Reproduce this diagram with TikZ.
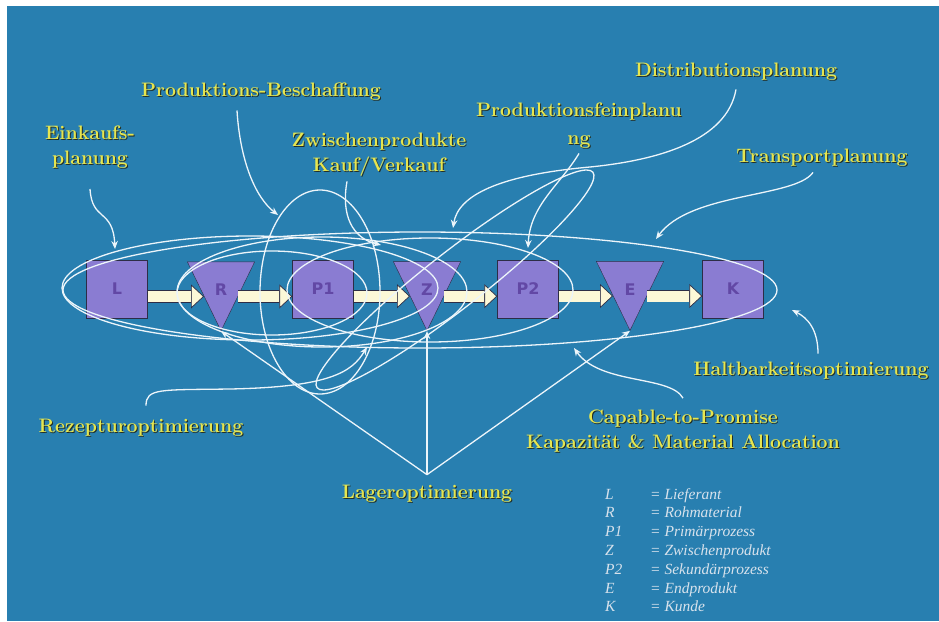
\documentclass[tikz,border=0pt]{standalone}
\usepackage{fontspec}
\usetikzlibrary{shapes.geometric,arrows.meta}
\newfontfamily\legendfont{Liberation Serif}
\newfontfamily\boxfont{DejaVu Sans}
\definecolor{bgblue}{RGB}{40,127,176}
\definecolor{boxfill}{RGB}{138,124,210}
\definecolor{boxtext}{RGB}{98,72,165}
\definecolor{cream}{RGB}{252,248,215}
\definecolor{edge}{RGB}{45,45,70}
\definecolor{lblyellow}{RGB}{230,230,80}
\definecolor{txtshadow}{RGB}{35,45,35}
\definecolor{wline}{RGB}{236,245,250}
\definecolor{legendc}{RGB}{215,226,236}
\newcommand\shtext[1]{\leavevmode\rlap{\kern1pt\raisebox{-1pt}{\color{txtshadow}#1}}#1}

\begin{document}
\begin{tikzpicture}[x=1pt,y=-1pt,
    box/.style={draw=edge,fill=boxfill,minimum width=61,minimum height=58,inner sep=0pt,
      text=boxtext,font=\boxfont\bfseries\fontsize{16}{16}\selectfont},
    tri/.style={isosceles triangle,isosceles triangle apex angle=52,shape border rotate=270,
      draw=edge,fill=boxfill,minimum height=69,inner sep=0pt,
      text=boxtext,font=\boxfont\bfseries\fontsize{16}{16}\selectfont},
    fat/.style={draw=cream,line width=11pt,
      -{Triangle[length=13pt,width=24pt,fill=cream,color=edge,line width=0.7pt]},
      preaction={draw=edge,line width=12.6pt,-,shorten >=12pt}},
    ring/.style={draw=wline,line width=1.3pt},
    pointer/.style={ring,-{Stealth[length=8pt,width=6.5pt]}},
    lbl/.style={text=lblyellow,font=\bfseries\fontsize{19.5}{25}\selectfont,align=center,inner sep=2pt},
    legrow/.style={text=legendc,font=\legendfont\itshape\fontsize{15.5}{18}\selectfont,inner sep=0pt,anchor=base west}]
  \useasboundingbox (0,0) rectangle (939,621);
  \fill[white] (0,0) rectangle (939,621);
  \fill[bgblue] (7,6) rectangle (939,621);

  % supply chain
  \node[box] (L) at (117,289) {L};
  \node[tri] (R) at (221,279) {\raisebox{-16pt}[0pt][0pt]{R}};
  \node[box] (P1) at (323,289) {P1};
  \node[tri] (Z) at (427,279) {\raisebox{-16pt}[0pt][0pt]{Z}};
  \node[box] (P2) at (528,289) {P2};
  \node[tri] (E) at (630,279) {\raisebox{-16pt}[0pt][0pt]{E}};
  \node[box] (K) at (733,289) {K};

  \draw[fat] (L.east |- R.right side) -- (R.right side);
  \draw[fat] (R.left side) -- (P1.west |- R.left side);
  \draw[fat] (P1.east |- Z.right side) -- (Z.right side);
  \draw[fat] (Z.left side) -- (P2.west |- Z.left side);
  \draw[fat] (P2.east |- E.right side) -- (E.right side);
  \draw[fat] (E.left side) -- (K.west |- E.left side);

  % planning areas
  \draw[ring] (420,290) ellipse [x radius=357,y radius=58];
  \draw[ring] (250,288) ellipse [x radius=188,y radius=52];
  \draw[ring] (322,292) ellipse [x radius=145,y radius=55];
  \draw[ring] (430,290) ellipse [x radius=143,y radius=52];
  \draw[ring] (272,293) ellipse [x radius=95,y radius=42];
  \draw[ring] (320,292) ellipse [x radius=60,y radius=102];
  \draw[ring,rotate around={38:(455,280)}] (455,280) ellipse [x radius=175,y radius=28];

  % labels
  \node[lbl] (ein) at (90,148) {\shtext{Einkaufs-}\\\shtext{planung}};
  \node[lbl] (pb) at (261,92) {\shtext{Produktions-Beschaffung}};
  \node[lbl] (kv) at (379,155) {\shtext{Zwischenprodukte}\\\shtext{Kauf/Verkauf}};
  \node[lbl] (fp) at (579,126) {\shtext{Produktionsfeinplanu}\\[3pt]\shtext{ng}};
  \node[lbl] (dist) at (736,72) {\shtext{Distributionsplanung}};
  \node[lbl] (tr) at (822,158) {\shtext{Transportplanung}};
  \node[lbl] (hb) at (811,371) {\shtext{Haltbarkeitsoptimierung}};
  \node[lbl] (ctp) at (683,432) {\shtext{Capable-to-Promise}\\\shtext{Kapazität \& Material Allocation}};
  \node[lbl] (rez) at (141,428) {\shtext{Rezepturoptimierung}};
  \node[lbl] (lag) at (427,494) {\shtext{Lageroptimierung}};

  \coordinate (tEin) at (115,249);
  \coordinate (tPB) at (278,215);
  \coordinate (tKV) at (381,245);
  \coordinate (tFP) at (528,248);
  \coordinate (tDist) at (453,228);
  \coordinate (tTr) at (656,239);
  \coordinate (tHb) at (792,310);
  \coordinate (tCtp) at (574,348);
  \coordinate (tRez) at (367,347);

  \draw[pointer] ([yshift=-17pt]ein.south) .. controls (92,222) and (113,208) .. (tEin);
  \draw[pointer] ([xshift=-24pt,yshift=-7pt]pb.south) .. controls (240,160) and (255,197) .. (tPB);
  \draw[pointer] ([xshift=-32pt,yshift=-2pt]kv.south) .. controls (341,215) and (352,238) .. (tKV);
  \draw[pointer] ([yshift=-2pt]fp.south) .. controls (560,185) and (530,205) .. (tFP);
  \draw[pointer] ([yshift=-6pt]dist.south) .. controls (727,140) and (660,160) .. (590,167)
    .. controls (500,175) and (458,195) .. (tDist);
  \draw[pointer] ([xshift=-9pt,yshift=-3pt]tr.south) .. controls (795,198) and (690,192) .. (tTr);
  \draw[pointer] ([xshift=7pt,yshift=6pt]hb.north) .. controls (818,330) and (808,318) .. (tHb);
  \draw[pointer] ([yshift=10pt]ctp.north) .. controls (670,375) and (600,385) .. (tCtp);
  \draw[pointer] ([xshift=5pt,yshift=11pt]rez.north) .. controls (146,388) and (160,390) .. (230,389)
    .. controls (330,387) and (352,372) .. (tRez);
  \foreach \n in {R,Z,E}
    \draw[pointer] ([yshift=8pt]lag.north) -- (\n.apex);

  % legend
  \foreach \k/\v [count=\i] in {L/Lieferant,R/Rohmaterial,P1/Primärprozess,Z/Zwischenprodukt,
      P2/Sekundärprozess,E/Endprodukt,K/Kunde}
    \node[legrow] (leg\i) at (605,{499+18.8*(\i-1)}) {\makebox[45pt][l]{\k}= \v};
\end{tikzpicture}
\end{document}
